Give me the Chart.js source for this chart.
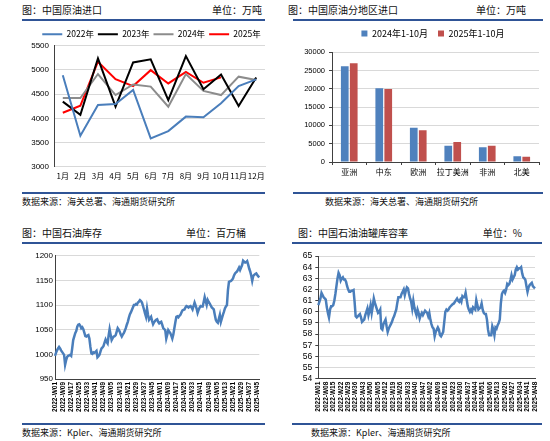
<!DOCTYPE html>
<html><head><meta charset="utf-8">
<script src="https://cdn.jsdelivr.net/npm/chart.js@4.4.1/dist/chart.umd.min.js"></script>
<style>
body{margin:0;width:550px;height:441px;background:#fff;position:relative;overflow:hidden;font-family:"Noto Sans CJK SC",sans-serif;}
.t{position:absolute;font-size:10px;line-height:12px;color:#111;white-space:nowrap;}
.s{position:absolute;font-size:9px;line-height:12px;color:#111;white-space:nowrap;}
.rule{position:absolute;height:2px;background:#2f5496;}
canvas{position:absolute;}
</style></head><body>
<div class="t" style="left:22px;top:4px">图：中国原油进口</div>
<div class="t" style="right:288px;top:4px">单位：万吨</div>
<div class="rule" style="left:22px;top:19px;width:243px"></div>
<div class="rule" style="left:22px;top:192px;width:243px"></div>
<div class="s" style="left:22px;top:196px">数据来源：海关总署、海通期货研究所</div>

<div class="t" style="left:288px;top:4px">图：中国原油分地区进口</div>
<div class="t" style="right:24px;top:4px">单位：万吨</div>
<div class="rule" style="left:293px;top:19px;width:250px"></div>
<div class="rule" style="left:293px;top:192px;width:250px"></div>
<div class="s" style="left:325px;top:196px">数据来源：海关总署、海通期货研究所</div>

<div class="t" style="left:22px;top:227px">图：中国石油库存</div>
<div class="t" style="right:304px;top:227px">单位：百万桶</div>
<div class="rule" style="left:22px;top:242px;width:243px"></div>
<div class="rule" style="left:22px;top:423px;width:243px"></div>
<div class="s" style="left:22px;top:427px">数据来源：Kpler、海通期货研究所</div>

<div class="t" style="left:298px;top:227px">图：中国石油油罐库容率</div>
<div class="t" style="right:28px;top:227px">单位：%</div>
<div class="rule" style="left:292px;top:242px;width:250px"></div>
<div class="rule" style="left:292px;top:423px;width:250px"></div>
<div class="s" style="left:311px;top:427px">数据来源：Kpler、海通期货研究所</div>

<canvas id="c1" width="275" height="160" style="left:0;top:26px"></canvas>
<canvas id="c2" width="275" height="167" style="left:275px;top:19px"></canvas>
<canvas id="c3" width="275" height="172" style="left:0;top:248px"></canvas>
<canvas id="c4" width="275" height="172" style="left:275px;top:248px"></canvas>
<script>
// ---- Data ----
const months = ['1月','2月','3月','4月','5月','6月','7月','8月','9月','10月','11月','12月'];
const imp2022 = [4890,3640,4275,4295,4585,3585,3735,4035,4020,4310,4665,4805];
const imp2023 = [4345,4070,5240,4240,5155,5220,4375,5285,4600,4905,4255,4845];
const imp2024 = [4420,4420,4915,4480,4700,4655,4240,4915,4565,4480,4860,4790];
const imp2025 = [4115,4260,5170,4810,4665,4995,4720,4960,4735,4845];

const regions = ['亚洲','中东','欧洲','拉丁美洲','非洲','北美'];
const reg2024 = [26170,20150,9390,4470,4010,1550];
const reg2025 = [26990,19970,8660,5470,4470,1460];

const weekYears = [2022,2023,2024,2025];
const weeksPerYear = [52,52,52,48];

const inventory = [997,1003,1008,1012,1015,1012,1008,1005,1002,999,
979,988,995,997,998,999,997,1012,1029,1036,
1043,1047,1056,1060,1061,1058,1053,1055,1051,1044,
1037,1036,1038,1039,1032,1015,1002,1001,1004,1003,
1005,1007,994,996,999,1006,1012,1014,1017,1024,
1030,1025,1022,1038,1051,1040,1029,1033,1036,1037,
1039,1046,1053,1050,1046,1040,1036,1040,1043,1048,
1053,1060,1066,1074,1081,1085,1090,1095,1100,1100,
1102,1101,1105,1107,1110,1108,1105,1098,1091,1083,
1076,1093,1080,1070,1073,1076,1068,1061,1065,1068,
1070,1071,1066,1063,1065,1066,1060,1053,1051,1049,
1032,1040,1049,1046,1043,1038,1032,1040,1053,1065,
1076,1077,1075,1078,1080,1085,1089,1090,1091,1095,
1098,1097,1095,1097,1098,1095,1091,1098,1105,1099,
1093,1084,1090,1095,1098,1097,1097,1106,1116,1108,
1100,1110,1106,1103,1099,1095,1093,1091,1080,1070,
1066,1064,1072,1080,1066,1073,1080,1086,1093,1097,
1100,1130,1147,1148,1149,1151,1154,1160,1164,1166,
1168,1172,1176,1171,1176,1181,1190,1188,1186,1187,
1189,1182,1174,1168,1160,1149,1159,1161,1163,1164,
1161,1158,1156];

const utilization = [60.6,60.9,61.2,61.7,61.5,61.3,61.2,61.1,60.4,59.9,
59.5,60.2,60.5,60.5,60.6,61.0,61.6,62.3,63.0,63.5,
63.3,62.8,63.0,63.1,62.9,62.9,62.7,62.3,62.0,61.8,
61.8,61.9,61.9,61.95,60.9,59.6,59.5,59.6,59.7,59.8,
59.5,59.1,59.2,59.3,59.7,60.0,60.3,59.7,60.1,60.6,
59.9,60.5,61.2,60.8,60.5,60.2,59.9,60.0,60.2,58.5,
58.4,58.9,59.1,59.3,58.7,58.2,58.5,58.7,58.9,59.1,
59.4,59.6,59.9,60.2,60.8,61.3,61.3,61.3,61.6,61.8,
62.0,61.5,61.9,62.2,62.1,61.6,61.2,60.9,60.3,61.0,
60.4,60.0,59.7,60.2,59.9,59.4,59.7,59.9,59.7,59.9,
60.1,60.0,59.9,59.6,59.9,59.3,58.9,58.6,58.5,57.8,
58.2,58.4,58.6,58.4,57.9,57.8,58.0,58.2,59.1,60.0,
60.2,60.1,60.2,60.4,60.5,60.6,60.7,60.75,60.9,61.05,
61.2,61.0,60.9,61.1,60.9,61.4,61.3,61.3,61.7,61.1,
60.5,60.2,60.0,60.2,60.0,60.4,60.3,60.2,61.05,60.6,
60.2,60.3,60.4,60.75,60.2,59.9,59.8,59.8,59.3,58.4,
57.9,57.9,57.9,58.7,58.4,57.9,58.6,58.5,58.8,59.0,
59.3,60.75,61.6,61.8,61.9,61.7,62.0,62.5,62.4,62.5,
62.85,63.3,62.9,63.1,63.3,63.8,64.0,63.8,63.9,63.9,
64.0,63.45,63.1,63.0,62.85,62.3,61.8,62.2,62.4,62.5,
62.6,62.3,62.2,62.1];

// week category labels
const weeks = [];
weekYears.forEach((y, k) => { for (let w = 1; w <= weeksPerYear[k]; w++) weeks.push(y + '-W' + String(w).padStart(2, '0')); });

// ---- Style ----
const CJK = '"Noto Sans CJK SC", sans-serif';
const LAT = '"Liberation Sans", Arial, sans-serif';
Chart.defaults.font.family = LAT;
Chart.defaults.color = '#000';
Chart.defaults.animation = false;
const GRID = '#d9d9d9', AX = '#404040';
const BLUE = '#4a7ebb';

function legendH(h, dx) {
  return { id: 'legendH',
    beforeLayout(chart) {
      const lg = chart.legend;
      if (lg && !lg._patched) { const f = lg.fit; lg.fit = function () { f.call(this); this.height = h; }; lg._patched = true; }
    },
    afterLayout(chart) {
      const lg = chart.legend;
      if (lg) { lg.left += dx; lg.right += dx; }
    } };
}

// Chart 1
new Chart(document.getElementById('c1'), {
  type: 'line',
  data: { labels: months, datasets: [
    { label: '2022年', data: imp2022, borderColor: BLUE, backgroundColor: BLUE, borderWidth: 2, pointRadius: 0, tension: 0 },
    { label: '2023年', data: imp2023, borderColor: '#000000', backgroundColor: '#000000', borderWidth: 2, pointRadius: 0, tension: 0 },
    { label: '2024年', data: imp2024, borderColor: '#8c8c8c', backgroundColor: '#8c8c8c', borderWidth: 2, pointRadius: 0, tension: 0 },
    { label: '2025年', data: imp2025, borderColor: '#ff0000', backgroundColor: '#ff0000', borderWidth: 2, pointRadius: 0, tension: 0 }
  ] },
  options: { responsive: false, animation: false,
    layout: { padding: { left: 0, right: 10, top: 0, bottom: 0 } },
    plugins: { tooltip: { enabled: false },
      legend: { position: 'top', labels: { usePointStyle: true, pointStyle: 'line', pointStyleWidth: 20, padding: 4, color: '#000', font: { size: 8.5, family: CJK } } } },
    scales: {
      x: { offset: true, grid: { display: false, drawTicks: false }, border: { color: GRID },
        ticks: { padding: 4.5, autoSkip: false, maxRotation: 0, font: { size: 8, family: CJK } },
        afterFit(s) { s.height = 19.3; } },
      y: { min: 3000, max: 5500, grid: { color: GRID, drawTicks: false }, border: { color: AX },
        ticks: { stepSize: 500, padding: 5, font: { size: 8 }, callback: v => String(v) },
        afterFit(s) { s.width = 54; } }
    } },
  plugins: [legendH(19.7, 19)]
});

// Chart 2
new Chart(document.getElementById('c2'), {
  type: 'bar',
  data: { labels: regions, datasets: [
    { label: '2024年1-10月', data: reg2024, backgroundColor: '#4f81bd', categoryPercentage: 0.52, barPercentage: 0.86 },
    { label: '2025年1-10月', data: reg2025, backgroundColor: '#c0504d', categoryPercentage: 0.52, barPercentage: 0.86 }
  ] },
  options: { responsive: false, animation: false,
    layout: { padding: { left: 0, right: 11, top: 0, bottom: 0 } },
    plugins: { tooltip: { enabled: false },
      legend: { position: 'top', labels: { boxWidth: 6, boxHeight: 6, padding: 10, color: '#000', font: { size: 9, family: CJK } } } },
    scales: {
      x: { grid: { drawOnChartArea: false, drawTicks: true, tickLength: 3, tickColor: AX, offset: true }, border: { color: AX },
        ticks: { padding: 2, autoSkip: false, maxRotation: 0, font: { size: 8, family: CJK } },
        afterFit(s) { s.height = 24; } },
      y: { min: 0, max: 30000, grid: { color: GRID, tickLength: 3, tickColor: AX }, border: { color: AX },
        ticks: { stepSize: 5000, padding: 4, font: { size: 7.5 }, callback: v => String(v) },
        afterFit(s) { s.width = 57; } }
    } },
  plugins: [legendH(33.3, 26)]
});

// Chart 3
new Chart(document.getElementById('c3'), {
  type: 'line',
  data: { labels: weeks.slice(0, inventory.length), datasets: [
    { label: '中国石油库存', data: inventory, borderColor: BLUE, borderWidth: 2.5, pointRadius: 0, tension: 0 }
  ] },
  options: { responsive: false, animation: false,
    layout: { padding: { left: 0, right: 15.7, top: 7.7, bottom: 0 } },
    plugins: { tooltip: { enabled: false }, legend: { display: false } },
    scales: {
      x: { grid: { drawOnChartArea: false, drawTicks: false }, border: { color: AX },
        ticks: { autoSkip: false, minRotation: 90, maxRotation: 90, padding: 3, font: { size: 6.5, weight: 'bold' },
          callback: (v, i) => i % 8 === 0 ? weeks[i] : '' },
        afterFit(s) { s.height = 41; } },
      y: { min: 950, max: 1200, grid: { color: GRID, drawTicks: false }, border: { color: AX },
        ticks: { stepSize: 50, padding: 2, autoSkip: false, font: { size: 8 }, callback: v => String(v) },
        afterFit(s) { s.width = 55; } }
    } }
});

// Chart 4
new Chart(document.getElementById('c4'), {
  type: 'line',
  data: { labels: weeks.slice(0, utilization.length), datasets: [
    { label: '中国石油油罐库容率', data: utilization, borderColor: BLUE, borderWidth: 2.5, pointRadius: 0, tension: 0 }
  ] },
  options: { responsive: false, animation: false,
    layout: { padding: { left: 0, right: 15, top: 8, bottom: 0 } },
    plugins: { tooltip: { enabled: false }, legend: { display: false } },
    scales: {
      x: { grid: { drawOnChartArea: false, drawTicks: false }, border: { color: AX },
        ticks: { autoSkip: false, minRotation: 90, maxRotation: 90, padding: 3, font: { size: 6.5, weight: 'bold' },
          callback: (v, i) => i % 7 === 0 ? weeks[i] : '' },
        afterFit(s) { s.height = 41.3; } },
      y: { min: 54, max: 65, grid: { color: GRID, tickLength: 3, tickColor: AX }, border: { color: AX },
        ticks: { stepSize: 1, padding: 3, autoSkip: false, font: { size: 8.5 }, callback: v => String(v) },
        afterFit(s) { s.width = 43.3; } }
    } }
});
</script>
</body></html>
